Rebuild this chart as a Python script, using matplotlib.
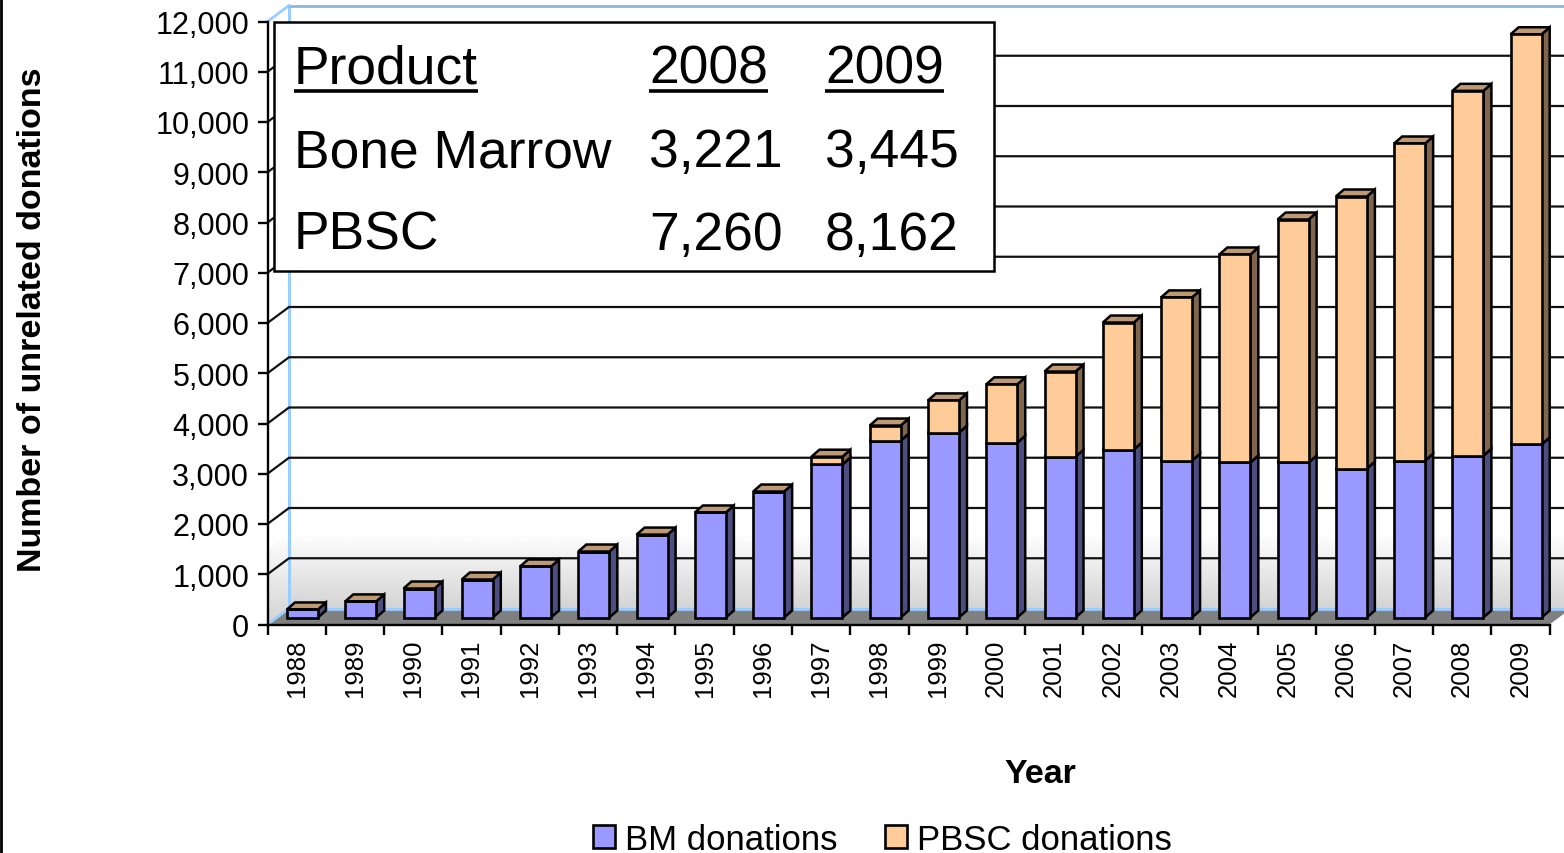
import matplotlib
matplotlib.use('Agg')
import matplotlib.pyplot as plt
from matplotlib.patches import Polygon, Rectangle
from matplotlib.ticker import StrMethodFormatter
import numpy as np

plt.rcParams['font.family'] = ['Liberation Sans', 'DejaVu Sans']

# Values
years = [1988, 1989, 1990, 1991, 1992, 1993, 1994, 1995, 1996, 1997, 1998,
         1999, 2000, 2001, 2002, 2003, 2004, 2005, 2006, 2007, 2008, 2009]
bm = [160, 320, 577, 756, 1015, 1313, 1650, 2090, 2507, 3045, 3520,
      3680, 3480, 3200, 3343, 3124, 3085, 3085, 2965, 3124, 3221, 3445]
pbsc = [0, 0, 0, 0, 0, 0, 0, 0, 0, 155, 300,
        640, 1160, 1695, 2527, 3246, 4139, 4835, 5413, 6309, 7260, 8162]
y_ticks = list(range(0, 13000, 1000))

table_rows = [['Product', '2008', '2009'],
              ['Bone Marrow', '3,221', '3,445'],
              ['PBSC', '7,260', '8,162']]

W, H = 1564, 854
fig = plt.figure(figsize=(W / 100, H / 100), dpi=100)
fig.patch.set_facecolor('white')

# Axes box is the front edge of the fake 3D chart
ax = fig.add_axes([267.5 / W, 1 - 625.5 / H, (1549.5 - 267.5) / W, (625.5 - 22.5) / H])
ax.set_xlim(0, 22)
ax.set_ylim(0, 12000)
ax.patch.set_alpha(0)

# depth offsets in data units
wall_dx, wall_dy = 21.5 / 58.27, 16 / 0.05025
bar_dx, bar_dy = 8 / 58.27, 7 / 0.05025
bar_w = 31 / 58.27
base = 7 / 0.05025
x = np.arange(len(years)) + 0.6
x_end = 22.5

# back wall and side wall shading, grey at the floor fading out by about 1,500
shade = np.linspace(1, 0.83, 64).reshape(-1, 1)
top = wall_dy + 1500
back = ax.imshow(shade, extent=(wall_dx, x_end, wall_dy, top), cmap='gray', vmin=0, vmax=1,
                 aspect='auto', clip_on=False, zorder=0)
side_pts = [(0, 0), (wall_dx, wall_dy), (wall_dx, top), (0, top - wall_dy)]
side = ax.imshow(shade, extent=(0, wall_dx, 0, top), cmap='gray', vmin=0, vmax=1,
                 aspect='auto', zorder=0)
side_clip = Polygon(side_pts, transform=ax.transData, fc='none', ec='none')
ax.add_patch(side_clip)
side.set_clip_path(side_clip)
ax.set_xlim(0, 22)
ax.set_ylim(0, 12000)

# floor
ax.add_patch(Polygon([(0, 0), (wall_dx, wall_dy), (22 + wall_dx, wall_dy), (22, 0)],
                     fc='#808080', ec='none', clip_on=False, zorder=1))

# walls outline in light blue
blue = '#99CCFF'
y_back_top = 12000 + wall_dy
ax.plot([wall_dx, wall_dx], [wall_dy, y_back_top], color=blue, lw=2.2, clip_on=False, zorder=1.5)
ax.plot([wall_dx, x_end], [y_back_top, y_back_top], color='#8DB4E2', lw=2, clip_on=False, zorder=1.5)
ax.plot([wall_dx, x_end], [wall_dy, wall_dy], color=blue, lw=2, clip_on=False, zorder=1.5)
ax.plot([0, wall_dx], [12000, y_back_top], color=blue, lw=2, clip_on=False, zorder=1.5)
ax.plot([0, wall_dx], [0, wall_dy], color=blue, lw=2, clip_on=False, zorder=1.5)

# gridlines on back wall + the slanted bit on side wall
for v in y_ticks[1:-1]:
    ax.plot([0, wall_dx, x_end], [v, v + wall_dy, v + wall_dy], color='#111111', lw=1.6,
            clip_on=False, zorder=2)


def shade_col(col, f):
    c = np.array(matplotlib.colors.to_rgb(col))
    return tuple(c * f)


def box(xs, bottoms, heights, col, label):
    # side and top faces are polygons, front face is the real bar
    for xi, b, h in zip(xs, bottoms, heights):
        if h <= 0:
            continue
        r = xi + bar_w / 2
        ax.add_patch(Polygon([(r, b), (r + bar_dx, b + bar_dy), (r + bar_dx, b + h + bar_dy), (r, b + h)],
                             fc=shade_col(col, 0.5), ec='black', lw=1.8, clip_on=False, zorder=3))
        ax.add_patch(Polygon([(r - bar_w, b + h), (r, b + h), (r + bar_dx, b + h + bar_dy),
                              (r - bar_w + bar_dx, b + h + bar_dy)],
                             fc=shade_col('#FFCC99', 0.75), ec='black', lw=1.8, clip_on=False, zorder=3))
    return ax.bar(xs, heights, bar_w, bottom=bottoms, color=col, edgecolor='black',
                  linewidth=1.9, zorder=4, label=label, clip_on=False)


bm_arr = np.array(bm)
h1 = box(x, np.full(len(x), base), bm_arr, '#9999FF', 'BM donations')
h2 = box(x, base + bm_arr, np.array(pbsc), '#FFCC99', 'PBSC donations')

# axes furniture
for s in ['top', 'right']:
    ax.spines[s].set_visible(False)
for s in ['left', 'bottom']:
    ax.spines[s].set_linewidth(1.7)
    ax.spines[s].set_zorder(5)
ax.set_yticks(y_ticks)
ax.yaxis.set_major_formatter(StrMethodFormatter('{x:,.0f}'))
ax.tick_params(axis='y', labelsize=22, length=7.2, width=1.7, pad=6)
ax.set_xticks(np.arange(0, 23))
ax.set_xticks(np.arange(len(years)) + 0.5, minor=True)
ax.set_xticklabels([])
ax.set_xticklabels([str(v) for v in years], minor=True, rotation=90)
ax.tick_params(axis='x', which='major', length=7, width=1.7)
ax.tick_params(axis='x', which='minor', length=0, labelsize=18.5, pad=10)

fig.text(33 / W, 1 - 320 / H, 'Number of unrelated donations', rotation=90, fontsize=24.5,
         fontweight='bold', ha='center', va='center')
fig.text(1040 / W, 1 - 775 / H, 'Year', fontsize=24.5, fontweight='bold', ha='center', va='center')

fig.legend(handles=[h1, h2], loc='upper left', bbox_to_anchor=(593 / W, 1 - 824 / H), ncol=2,
           frameon=False, fontsize=25, handlelength=0.63, handleheight=0.63, handletextpad=0.29,
           columnspacing=1.38, borderpad=0, borderaxespad=0)

# inset table and page edge, drawn on a pixel-space overlay
over = fig.add_axes([0, 0, 1, 1], zorder=10)
over.set_xlim(0, W)
over.set_ylim(H, 0)
over.axis('off')
over.add_patch(Rectangle((274, 22.5), 720, 249, fc='white', ec='black', lw=1.8))
over.plot([1, 1], [0, H], color='black', lw=2)
col_x = [294, 649, 825]
row_y = [83, 167, 250]
for j, row in enumerate(table_rows):
    for cx, txt in zip(col_x, row):
        t = over.text(cx, row_y[j], txt, fontsize=38.4, ha='left', va='baseline')
        if j == 0:
            bb = t.get_window_extent(fig.canvas.get_renderer())
            over.plot([cx, cx + bb.width], [92, 92], color='black', lw=2.6, solid_capstyle='butt')

fig.savefig('out.png', dpi=100)
